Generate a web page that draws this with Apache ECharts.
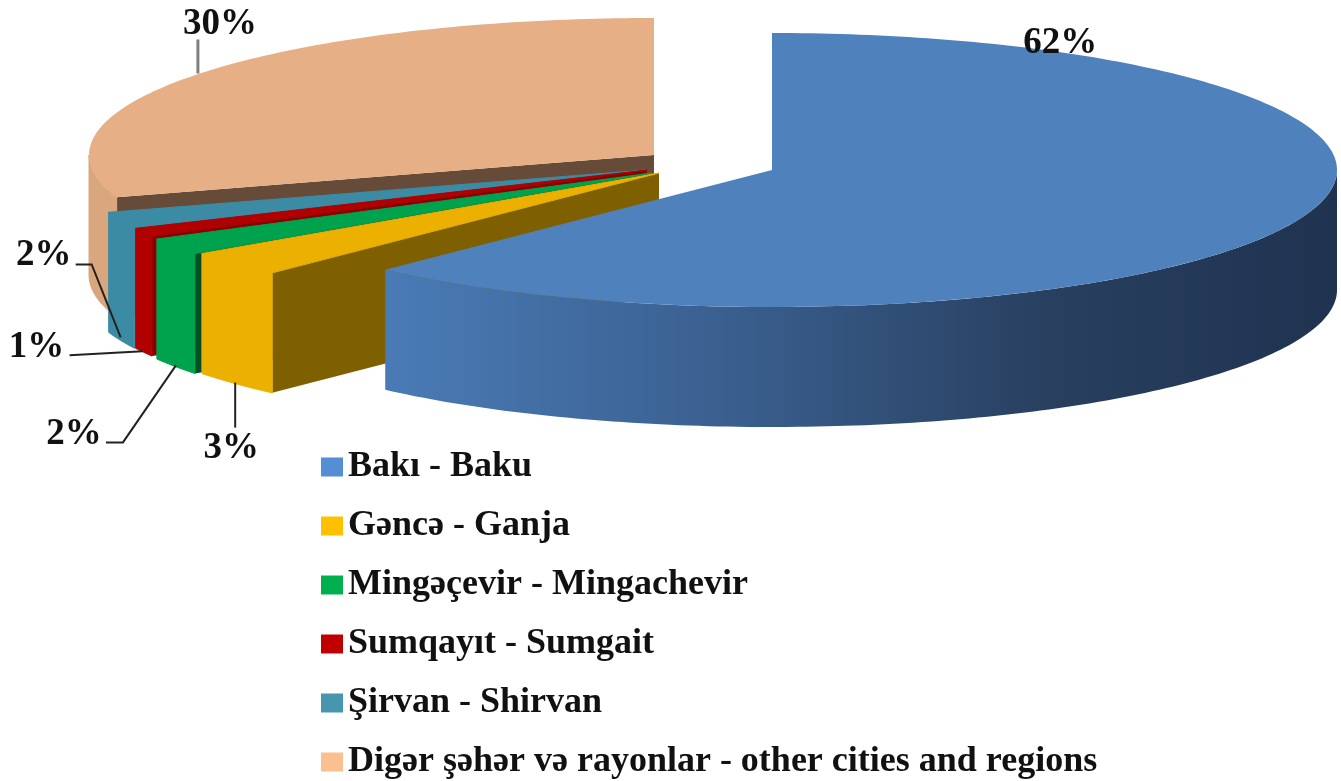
<!DOCTYPE html>
<html>
<head>
<meta charset="utf-8">
<title>Pie</title>
<script src="https://cdn.jsdelivr.net/npm/echarts@6/dist/echarts.min.js"></script>
<style>
  html, body { margin: 0; padding: 0; background: #fff; }
  #main { width: 1341px; height: 781px; }
</style>
</head>
<body>
<div id="main"></div>
<script>
  // data
  var categories = ['Bakı - Baku', 'Gəncə - Ganja', 'Mingəçevir - Mingachevir', 'Sumqayıt - Sumgait', 'Şirvan - Shirvan', 'Digər şəhər və rayonlar - other cities and regions'];
  var shares = [62, 3, 2, 1, 2, 30];

  // colours
  var legendColors = ['#558ed5', '#ffc000', '#00b050', '#c00000', '#4596ae', '#fac090'];
  var topColors = ['#4f81bd', '#ecb100', '#00a34d', '#b00000', '#3b8ba5', '#e6af85'];
  var cutColors = ['#4f81bd', '#7f6000', '#004f26', '#8a0000', '#2a6478', '#664b39'];
  var wallColors = [null, '#ecb100', '#00a34d', '#b00000', '#3b8ba5', '#d9a67e'];

  // 3d look of the pie
  var rx = 565, ry = 137, depth = 120;
  var centers = [[772, 170], [659, 173], [652, 173], [647, 170], [646, 170], [654, 155]];

  // label offset from the slice anchor, leader bend from the anchor
  var labelOffset = [[-237, -297], [-4, 65], [-101, 68], [-107, -5], [-77, -85], [23, -50]];
  var leaderPath = [
    [],
    [[0, -1], [0, 44]],
    [[1, -1], [-52, 76], [-69, 76]],
    [[-1, -1], [-74, 3]],
    [[0, -3], [-29, -76], [-45, -76]],
    [[1, -1], [1, -35]]
  ];

  var serif = '"Liberation Serif", "Times New Roman", serif';

  // cumulative start angle (clockwise from 12 o'clock, degrees)
  var total = shares.reduce(function (a, b) { return a + b; }, 0);
  var startAngles = [];
  shares.reduce(function (acc, v, i) { startAngles[i] = acc; return acc + v; }, 0);

  function pt(c, deg, dy) {
    var r = deg * Math.PI / 180;
    return [c[0] + rx * Math.sin(r), c[1] - ry * Math.cos(r) + (dy || 0)];
  }
  function arc(c, a, b, dy) {
    var out = [];
    var n = Math.max(2, Math.ceil(Math.abs(b - a)));
    for (var i = 0; i <= n; i++) out.push(pt(c, a + (b - a) * i / n, dy));
    return out;
  }

  function sliceRender(idx) {
    return function (params, api) {
      var share = api.value(0);
      var a = startAngles[idx] / total * 360;
      var b = a + share / total * 360;
      var c = centers[idx];
      var children = [];

      // cut face that looks at the viewer
      if (idx > 0) {
        var p = pt(c, a);
        children.push({
          type: 'polygon', silent: true,
          shape: { points: [c, p, [p[0], p[1] + depth], [c[0], c[1] + depth]] },
          style: { fill: cutColors[idx] }
        });
      }

      // outer wall, only the front half of the ellipse
      var wa = Math.max(a, 90), wb = Math.min(b, 270);
      if (wb > wa) {
        var fill = wallColors[idx];
        if (idx === 0) {
          fill = new echarts.graphic.LinearGradient(pt(c, wb)[0], 0, c[0] + rx, 0, [
            { offset: 0, color: '#4a7bb6' },
            { offset: 0.35, color: '#3a6090' },
            { offset: 0.7, color: '#283f5f' },
            { offset: 1, color: '#1f3350' }
          ], true);
        }
        children.push({
          type: 'polygon', silent: true,
          shape: { points: arc(c, wa, wb).concat(arc(c, wb, wa, depth)) },
          style: idx === 0 ? { fill: fill } : { fill: fill, stroke: fill, lineWidth: 1 }
        });
      }

      // top face
      children.push({
        type: 'polygon', silent: true,
        shape: { points: [c].concat(arc(c, a, b)) },
        style: idx === 0 || idx === 5 ? { fill: topColors[idx] } : { fill: topColors[idx], stroke: topColors[idx], lineWidth: 1 }
      });

      // anchor on the rim at the middle of the slice
      var mid = (a + b) / 2;
      var anchor = pt(c, mid, (mid > 90 && mid < 270) ? depth : 0);

      if (leaderPath[idx].length) {
        children.push({
          type: 'polyline', silent: true, z2: 20,
          shape: { points: leaderPath[idx].map(function (d) { return [anchor[0] + d[0], anchor[1] + d[1]]; }) },
          style: { fill: null, stroke: idx === 5 ? '#7f7f7f' : '#222', lineWidth: idx === 5 ? 3 : 2 }
        });
      }

      children.push({
        type: 'text', silent: true, z2: 21,
        x: anchor[0] + labelOffset[idx][0],
        y: anchor[1] + labelOffset[idx][1],
        style: {
          text: share + '%',
          fill: '#111',
          font: 'bold 37px ' + serif,
          align: 'center',
          verticalAlign: 'middle'
        }
      });

      return { type: 'group', children: children };
    };
  }

  // back slices first so the front ones cover them
  var series = [];
  for (var i = categories.length - 1; i >= 0; i--) {
    series.push({
      name: categories[i],
      type: 'custom',
      coordinateSystem: 'none',
      renderItem: sliceRender(i),
      itemStyle: { color: topColors[i] },
      data: [[shares[i]]]
    });
  }

  var chart = echarts.init(document.getElementById('main'));
  chart.setOption({
    animation: false,
    backgroundColor: '#fff',
    tooltip: { show: false },
    legend: {
      orient: 'vertical',
      left: 321,
      top: 449,
      padding: 0,
      itemWidth: 22,
      itemHeight: 19,
      itemGap: 23,
      selectedMode: false,
      icon: 'rect',
      textStyle: {
        fontFamily: serif,
        fontWeight: 'bold',
        fontSize: 36,
        color: '#111'
      },
      data: categories.map(function (name, i) {
        return { name: name, itemStyle: { color: legendColors[i] } };
      })
    },
    series: series
  });
</script>
</body>
</html>
